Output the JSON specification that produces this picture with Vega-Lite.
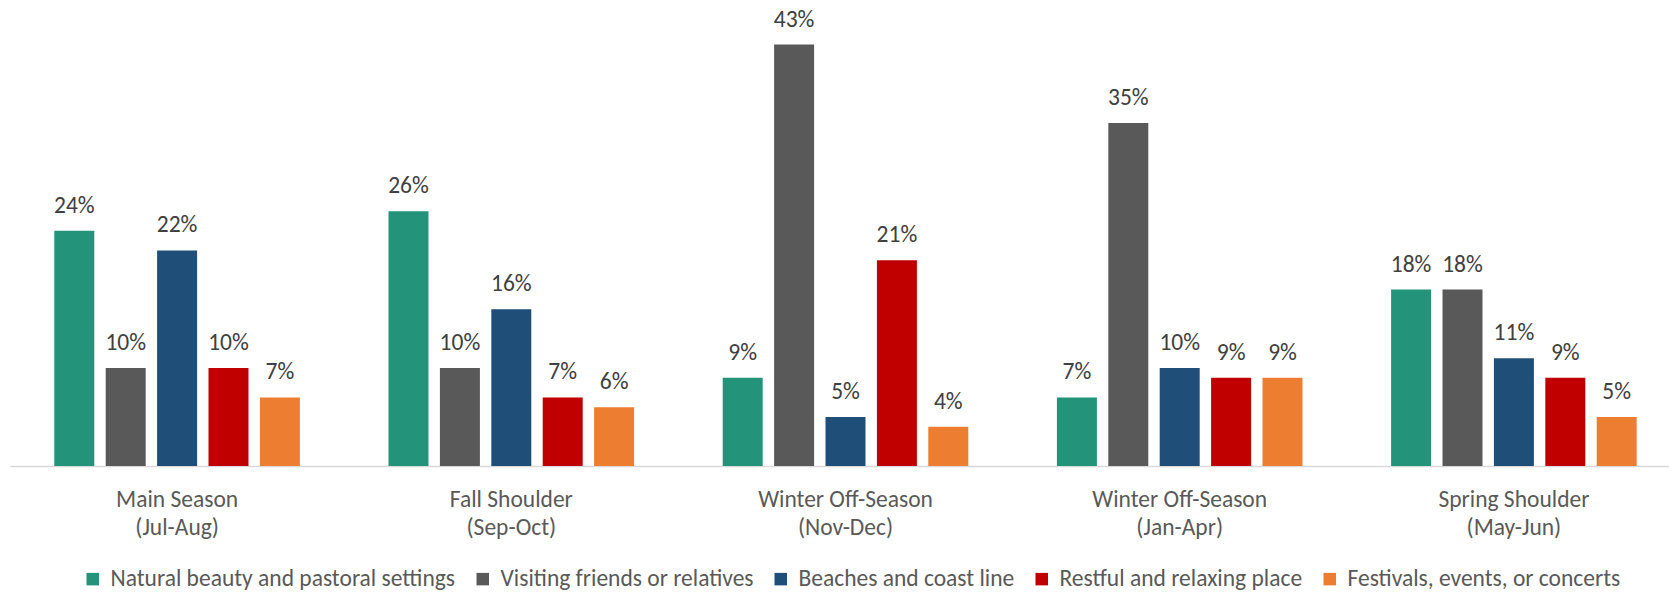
{
  "$schema": "https://vega.github.io/schema/vega-lite/v6.json",
  "width": 1659,
  "height": 466,
  "autosize": {"type": "none"},
  "padding": {"left": 10, "top": 0, "right": 0, "bottom": 126},
  "config": {
    "view": {"stroke": null},
    "font": "Carlito, Lato, sans-serif"
  },
  "data": {
    "values": [
      {"season": "Main Season\n(Jul-Aug)", "reason": "Natural beauty and pastoral settings", "pct": 0.24},
      {"season": "Main Season\n(Jul-Aug)", "reason": "Visiting friends or relatives", "pct": 0.10},
      {"season": "Main Season\n(Jul-Aug)", "reason": "Beaches and coast line", "pct": 0.22},
      {"season": "Main Season\n(Jul-Aug)", "reason": "Restful and relaxing place", "pct": 0.10},
      {"season": "Main Season\n(Jul-Aug)", "reason": "Festivals, events, or concerts", "pct": 0.07},
      {"season": "Fall Shoulder\n(Sep-Oct)", "reason": "Natural beauty and pastoral settings", "pct": 0.26},
      {"season": "Fall Shoulder\n(Sep-Oct)", "reason": "Visiting friends or relatives", "pct": 0.10},
      {"season": "Fall Shoulder\n(Sep-Oct)", "reason": "Beaches and coast line", "pct": 0.16},
      {"season": "Fall Shoulder\n(Sep-Oct)", "reason": "Restful and relaxing place", "pct": 0.07},
      {"season": "Fall Shoulder\n(Sep-Oct)", "reason": "Festivals, events, or concerts", "pct": 0.06},
      {"season": "Winter Off-Season\n(Nov-Dec)", "reason": "Natural beauty and pastoral settings", "pct": 0.09},
      {"season": "Winter Off-Season\n(Nov-Dec)", "reason": "Visiting friends or relatives", "pct": 0.43},
      {"season": "Winter Off-Season\n(Nov-Dec)", "reason": "Beaches and coast line", "pct": 0.05},
      {"season": "Winter Off-Season\n(Nov-Dec)", "reason": "Restful and relaxing place", "pct": 0.21},
      {"season": "Winter Off-Season\n(Nov-Dec)", "reason": "Festivals, events, or concerts", "pct": 0.04},
      {"season": "Winter Off-Season\n(Jan-Apr)", "reason": "Natural beauty and pastoral settings", "pct": 0.07},
      {"season": "Winter Off-Season\n(Jan-Apr)", "reason": "Visiting friends or relatives", "pct": 0.35},
      {"season": "Winter Off-Season\n(Jan-Apr)", "reason": "Beaches and coast line", "pct": 0.10},
      {"season": "Winter Off-Season\n(Jan-Apr)", "reason": "Restful and relaxing place", "pct": 0.09},
      {"season": "Winter Off-Season\n(Jan-Apr)", "reason": "Festivals, events, or concerts", "pct": 0.09},
      {"season": "Spring Shoulder\n(May-Jun)", "reason": "Natural beauty and pastoral settings", "pct": 0.18},
      {"season": "Spring Shoulder\n(May-Jun)", "reason": "Visiting friends or relatives", "pct": 0.18},
      {"season": "Spring Shoulder\n(May-Jun)", "reason": "Beaches and coast line", "pct": 0.11},
      {"season": "Spring Shoulder\n(May-Jun)", "reason": "Restful and relaxing place", "pct": 0.09},
      {"season": "Spring Shoulder\n(May-Jun)", "reason": "Festivals, events, or concerts", "pct": 0.05}
    ]
  },
  "encoding": {
    "x": {
      "field": "season",
      "type": "nominal",
      "sort": null,
      "scale": {"range": [0, 1671], "paddingInner": 0, "paddingOuter": 0},
      "axis": {
        "title": null,
        "labelAngle": 0,
        "ticks": false,
        "domainColor": "#d9d9d9",
        "domainWidth": 1.5,
        "labelFontSize": 23.5,
        "labelColor": "#595959",
        "labelPadding": 21,
        "labelLineHeight": 28,
        "labelExpr": "split(datum.value, '\\n')"
      }
    },
    "xOffset": {
      "field": "reason",
      "type": "nominal",
      "sort": null,
      "scale": {"paddingInner": 0.222, "paddingOuter": 0.862}
    },
    "y": {
      "field": "pct",
      "type": "quantitative",
      "scale": {"domain": [0, 0.4755], "nice": false},
      "axis": null
    }
  },
  "layer": [
    {
      "mark": {"type": "bar"},
      "encoding": {
        "color": {
          "field": "reason",
          "type": "nominal",
          "sort": null,
          "scale": {
            "domain": ["Natural beauty and pastoral settings", "Visiting friends or relatives", "Beaches and coast line", "Restful and relaxing place", "Festivals, events, or concerts"],
            "range": ["#23947A", "#595959", "#1F4E79", "#C00000", "#ED7D31"]
          },
          "legend": {
            "title": null,
            "orient": "none",
            "legendX": 71,
            "legendY": 567,
            "direction": "horizontal",
            "symbolType": "square",
            "symbolSize": 156,
            "symbolStrokeWidth": 0,
            "labelFontSize": 23.5,
            "labelColor": "#595959",
            "labelOffset": 6,
            "columnPadding": 15,
            "labelLimit": 0
          }
        }
      }
    },
    {
      "mark": {"type": "text", "baseline": "alphabetic", "align": "center", "dy": -18, "fontSize": 23.5, "color": "#404040"},
      "encoding": {
        "text": {"field": "pct", "type": "quantitative", "format": ".0%"}
      }
    }
  ]
}
